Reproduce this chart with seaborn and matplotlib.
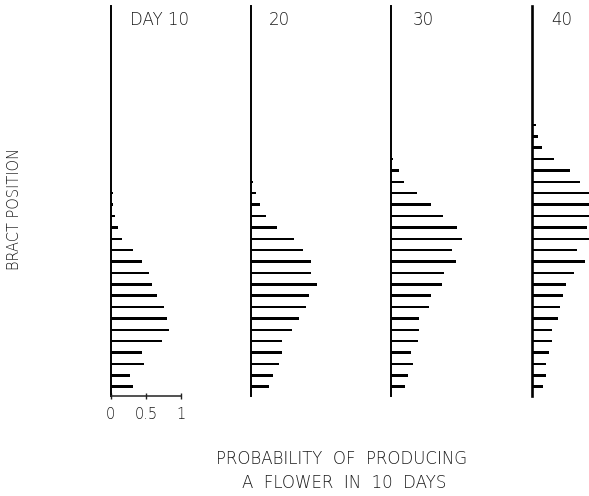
import matplotlib
matplotlib.use("Agg")
import matplotlib.pyplot as plt
import seaborn as sns
import pandas as pd

# Probability of producing a flower in 10 days, by bract position (listed bottom -> top)
day10 = [0.32, 0.28, 0.47, 0.45, 0.73, 0.83, 0.80, 0.76, 0.66, 0.58,
         0.54, 0.44, 0.32, 0.16, 0.11, 0.06, 0.035, 0.035]
day20 = [0.26, 0.31, 0.39, 0.44, 0.43, 0.58, 0.67, 0.77, 0.81, 0.93,
         0.84, 0.85, 0.73, 0.61, 0.36, 0.21, 0.12, 0.075, 0.035]
day30 = [0.20, 0.24, 0.31, 0.28, 0.38, 0.39, 0.39, 0.53, 0.56, 0.72,
         0.74, 0.91, 0.86, 1.00, 0.93, 0.73, 0.57, 0.36, 0.19, 0.11, 0.035]
day40 = [0.15, 0.20, 0.20, 0.24, 0.28, 0.28, 0.36, 0.40, 0.43, 0.48,
         0.59, 0.75, 0.63, 0.82, 0.77, 0.84, 0.86, 0.83, 0.68, 0.535,
         0.31, 0.145, 0.09, 0.05]

panel_titles = ["DAY 10", "20", "30", "40"]
series = [day10, day20, day30, day40]
x_ticks = [0, 0.5, 1]
x_tick_labels = ["0", "0.5", "1"]

sns.set_theme(style="white")
plt.rcParams["font.family"] = ["DejaVu Sans"]
txt = dict(color="#1a1a1a", fontweight="light")

W, H = 589, 496
fig = plt.figure(figsize=(W / 100, H / 100), dpi=100)

# pixel geometry of the panels
spine_x = [110.5, 251, 391, 532]
unit_px = 71.0
top_px, bottom_px = 6.0, 395.5
pos1_px, step_px = 386.7, 11.38
ylo = 1 - (bottom_px - pos1_px) / step_px
yhi = 1 + (pos1_px - top_px) / step_px

title_x = [160, 279, 423, 562]

for i, (vals, title) in enumerate(zip(series, panel_titles)):
    ax = fig.add_axes([spine_x[i] / W, (H - bottom_px) / H,
                       unit_px / W, (bottom_px - top_px) / H])
    df = pd.DataFrame({"prob": vals, "pos": list(range(1, len(vals) + 1))})
    sns.barplot(data=df, x="prob", y="pos", orient="h", native_scale=True,
                color="black", saturation=1, width=0.22, linewidth=0,
                ax=ax)
    ax.set_xlim(0, 1)
    ax.set_ylim(ylo, yhi)
    ax.set_facecolor("none")
    for s in ["top", "right"]:
        ax.spines[s].set_visible(False)
    ax.spines["left"].set_color("black")
    ax.spines["left"].set_linewidth(1.4 if i < 3 else 1.9)
    ax.set_yticks([])
    ax.set_xlabel("")
    ax.set_ylabel("")
    if i == 0:
        ax.spines["bottom"].set_color("#222222")
        ax.spines["bottom"].set_linewidth(1.1)
        ax.spines["bottom"].set_bounds(0, 1)
        ax.set_xticks(x_ticks)
        ax.set_xticklabels(x_tick_labels, fontsize=10.5, **txt)
        ax.tick_params(axis="x", direction="inout", length=5, width=1,
                       color="#222222", bottom=True, pad=6)
    else:
        ax.spines["bottom"].set_visible(False)
        ax.set_xticks([])
    fig.text(title_x[i] / W, 1 - 20 / H, title, ha="center", va="center",
             fontsize=12, **txt)

fig.text(15 / W, 1 - 209 / H, "BRACT POSITION", rotation=90,
         ha="center", va="center", fontsize=10.5, **txt)
fig.text(342 / W, 1 - 459 / H, "PROBABILITY  OF  PRODUCING",
         ha="center", va="center", fontsize=12, **txt)
fig.text(344 / W, 1 - 483 / H, "A  FLOWER  IN  10  DAYS",
         ha="center", va="center", fontsize=12, **txt)

fig.savefig("out.png", dpi=100, facecolor="white")
